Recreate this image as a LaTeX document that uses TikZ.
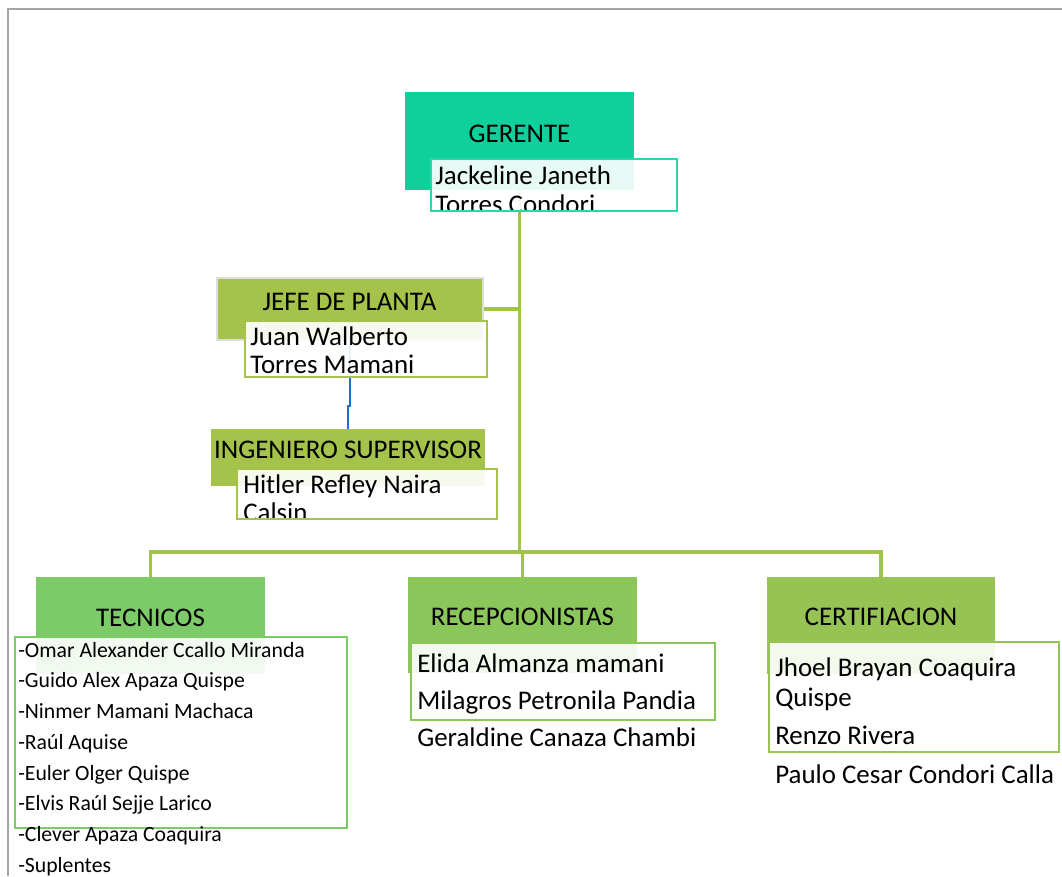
\documentclass[tikz,border=0pt]{standalone}
\usepackage{fontspec}
\setmainfont{Carlito}
\usetikzlibrary{fit,backgrounds}
\definecolor{gerC}{RGB}{15,207,155}
\definecolor{gerL}{RGB}{45,214,166}
\definecolor{jefeC}{RGB}{165,195,74}
\definecolor{jefeOut}{RGB}{222,222,222}
\definecolor{tecC}{RGB}{125,203,104}
\definecolor{recC}{RGB}{139,198,90}
\definecolor{certC}{RGB}{151,195,84}
\definecolor{connC}{RGB}{160,196,72}
\definecolor{blueC}{RGB}{31,110,200}
\definecolor{grayB}{RGB}{165,165,165}
\tikzset{
  headbox/.style={inner sep=0pt, outer sep=0pt},
  namebox/.style={inner sep=0pt, outer sep=0pt, fill=white, fill opacity=0.9, line width=1.6pt},
  headtext/.style={inner sep=0pt, anchor=base, font=\fontsize{20.2}{24}\selectfont},
  nametext/.style={inner sep=0pt, anchor=base west, font=\fontsize{20.2}{24}\selectfont},
  listtext/.style={inner sep=0pt, anchor=base west, font=\fontsize{16.3}{19}\selectfont},
  conn/.style={draw=connC, line width=2.3pt},
  blueline/.style={draw=blueC, line width=1.7pt},
}
\begin{document}
\begin{tikzpicture}[x=0.75pt,y=-0.75pt]
\useasboundingbox (0,0) rectangle (1062,876);
\draw[grayB, line width=1.2pt] (8,876) -- (8,9) -- (1062,9);

% head boxes
\node[headbox, fill=gerC, fit={(405,92) (634,190)}] (ger) {};
\node[headbox, fill=jefeC, draw=jefeOut, line width=1.5pt, fit={(217,278) (482.5,340)}] (jefe) {};
\node[headbox, fill=jefeC, fit={(211,429) (485,486)}] (ing) {};
\node[headbox, fill=tecC, fit={(36,577) (265,674)}] (tec) {};
\node[headbox, fill=recC, fit={(408,577) (637,673)}] (rec) {};
\node[headbox, fill=certC, fit={(767,577) (995,674)}] (cert) {};

% name boxes
\node[namebox, draw=gerL, fit={(431,159) (677,211)}] (gername) {};
\node[namebox, draw=jefeC, fit={(245,321) (487,377)}] (jefename) {};
\node[namebox, draw=jefeC, fit={(237,469) (497,519)}] (ingname) {};
\node[namebox, draw=tecC, fit={(15,637) (347,828)}] (tecname) {};
\node[namebox, draw=recC, fit={(411,643) (715,720)}] (recname) {};
\node[namebox, draw=certC, fit={(769,642) (1059,752)}] (certname) {};

% connectors
\coordinate (j1) at (519.5,552);
\begin{scope}[on background layer]
\draw[conn] (ger.south) -- (j1);
\draw[conn] (jefe.east) -- (jefe.east -| j1);
\draw[conn] (j1) -| (tec.north);
\draw[conn] (j1) -| (rec.north);
\draw[conn] (j1) -| (cert.north);
\draw[blueline] (jefe.south) -- ++(0,66) -| (ing.north);
\end{scope}

% head texts
\node[headtext] (gerT) at (519.5,142.5) {GERENTE};
\node[headtext] (jefeT) at (349.5,310) {JEFE DE PLANTA};
\node[headtext] (ingT) at (348,458) {INGENIERO SUPERVISOR};
\node[headtext] (tecT) at (150.5,626) {TECNICOS};
\node[headtext] (recT) at (522.5,625.5) {RECEPCIONISTAS};
\node[headtext] (certT) at (881,625.5) {CERTIFIACION};

% clipped names
\begin{scope}
\clip ([shift={(1.5,1.5)}]gername.north west) rectangle ([shift={(-1.5,-1.5)}]gername.south east);
\node[nametext] (gerN1) at (435,184) {Jackeline Janeth};
\node[nametext] (gerN2) at (435,213.5) {Torres Condori};
\end{scope}
\begin{scope}
\clip ([shift={(1.5,1.5)}]jefename.north west) rectangle ([shift={(-1.5,-1.5)}]jefename.south east);
\node[nametext] (jefeN1) at (250,345) {Juan Walberto};
\node[nametext] (jefeN2) at (250,373) {Torres Mamani};
\end{scope}
\begin{scope}
\clip ([shift={(1.5,1.5)}]ingname.north west) rectangle ([shift={(-1.5,-1.5)}]ingname.south east);
\node[nametext] (ingN1) at (243,493) {Hitler Refley Naira};
\node[nametext] (ingN2) at (243,521) {Calsin};
\end{scope}

% tecnicos list
\node[listtext] (t1) at (18,657) {-Omar Alexander Ccallo Miranda};
\node[listtext] (t2) at (18,687.5) {-Guido Alex Apaza Quispe};
\node[listtext] (t3) at (18,718) {-Ninmer Mamani Machaca};
\node[listtext] (t4) at (18,749) {-Raúl Aquise};
\node[listtext] (t5) at (18,780) {-Euler Olger Quispe};
\node[listtext] (t6) at (18,810.5) {-Elvis Raúl Sejje Larico};
\node[listtext] (t7) at (18,841.5) {-Clever Apaza Coaquira};
\node[listtext] (t8) at (18,872.5) {-Suplentes};

% recepcionistas
\node[nametext] (r1) at (417,672) {Elida Almanza mamani};
\node[nametext] (r2) at (417,709) {Milagros Petronila Pandia};
\node[nametext] (r3) at (417,746) {Geraldine Canaza Chambi};

% certificacion
\node[nametext] (c1) at (775,676) {Jhoel Brayan Coaquira};
\node[nametext] (c2) at (775,706) {Quispe};
\node[nametext] (c3) at (775,744.5) {Renzo Rivera};
\node[nametext] (c4) at (775,783) {Paulo Cesar Condori Calla};
\end{tikzpicture}
\end{document}
